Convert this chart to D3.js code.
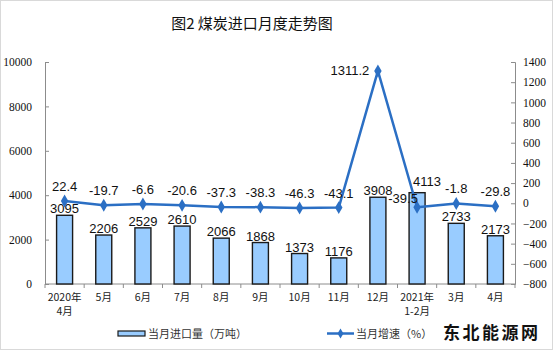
<!DOCTYPE html>
<html><head><meta charset="utf-8">
<script src="https://cdn.jsdelivr.net/npm/d3@7"></script>
<style>
html,body{margin:0;padding:0;background:#fff;}
svg{display:block;}
</style></head>
<body><div id="chart"></div>
<script>
const months=["2020年|4月","5月","6月","7月","8月","9月","10月","11月","12月","2021年|1-2月","3月","4月"];
const imports=[3095,2206,2529,2610,2066,1868,1373,1176,3908,4113,2733,2173];
const growth=[22.4,-19.7,-6.6,-20.6,-37.3,-38.3,-46.3,-43.1,1311.2,-39.5,-1.8,-29.8];
const leftTicks=[0,2000,4000,6000,8000,10000];
const rightTicks=[-800,-600,-400,-200,0,200,400,600,800,1000,1200,1400];

(function(){
  const W=554,H=352;
  const left=45,right=515,top=62,bottom=284;
  const svg=d3.select("#chart").append("svg").attr("width",W).attr("height",H);
  const cjk="'Noto Sans CJK SC','Noto Sans',sans-serif";
  const lineColor="#2b6fc4";

  svg.append("rect").attr("x",0.5).attr("y",0.5).attr("width",W-2).attr("height",H-3)
    .attr("fill","none").attr("stroke","#d9d9d9");

  svg.append("text").attr("x",252).attr("y",29).attr("text-anchor","middle")
    .attr("font-family",cjk).attr("font-size",15).attr("fill","#111")
    .text("图2 煤炭进口月度走势图");

  const x=d3.scaleBand().domain(months).range([left,right]);
  const y=d3.scaleLinear().domain([0,10000]).range([bottom,top]);
  const y2=d3.scaleLinear().domain([-800,1400]).range([bottom,top]);

  const gl=svg.append("g").attr("transform",`translate(${left},0)`)
    .call(d3.axisLeft(y).tickValues(leftTicks).tickSize(-4).tickFormat(d3.format("d")));
  const gr=svg.append("g").attr("transform",`translate(${right},0)`)
    .call(d3.axisRight(y2).tickValues(rightTicks).tickSize(-4).tickFormat(d3.format("d")));
  [gl,gr].forEach(g=>{
    g.select(".domain").attr("stroke","#8c8c8c");
    g.selectAll(".tick line").attr("stroke","#8c8c8c");
    g.selectAll(".tick text").attr("font-family","'Liberation Serif',serif").attr("font-size",11.5).attr("fill","#111");
  });
  gl.selectAll(".tick text").attr("x",-13);
  gr.selectAll(".tick text").attr("x",8).attr("text-anchor","start");

  // category axis with ticks between bands
  svg.append("line").attr("x1",left).attr("x2",right).attr("y1",bottom).attr("y2",bottom).attr("stroke","#8c8c8c");
  svg.selectAll(".xtick").data(d3.range(months.length+1)).join("line")
    .attr("x1",i=>left+i*x.step()).attr("x2",i=>left+i*x.step())
    .attr("y1",bottom).attr("y2",bottom+4).attr("stroke","#8c8c8c");
  const cat=svg.selectAll(".cat").data(months).join("text")
    .attr("text-anchor","middle").attr("font-family",cjk).attr("font-size",10.5).attr("fill","#222");
  cat.each(function(d){
    const t=d3.select(this);
    d.split("|").forEach((p,i)=>t.append("tspan").attr("x",x(d)+x.bandwidth()/2).attr("y",301+i*14).text(p));
  });

  // bars
  const bw=16;
  svg.selectAll(".bar").data(imports).join("rect")
    .attr("x",(d,i)=>x(months[i])+x.bandwidth()/2-bw/2)
    .attr("y",d=>y(d)).attr("width",bw).attr("height",d=>bottom-y(d))
    .attr("fill","#99ccff").attr("stroke","#1a1a1a").attr("stroke-width",1.4);

  const barDx={9:10};
  const barDy={9:-5};
  svg.selectAll(".blab").data(imports).join("text")
    .attr("x",(d,i)=>x(months[i])+x.bandwidth()/2+(barDx[i]||0))
    .attr("y",(d,i)=>y(d)-2+(barDy[i]||0))
    .attr("text-anchor","middle").attr("font-family","'Liberation Sans',Arial,sans-serif")
    .attr("font-size",13).attr("fill","#111").text(d=>d);

  // growth line
  const cx=i=>x(months[i])+x.bandwidth()/2;
  const line=d3.line().x((d,i)=>cx(i)).y(d=>y2(d));
  svg.append("path").datum(growth).attr("d",line)
    .attr("fill","none").attr("stroke",lineColor).attr("stroke-width",2.5).attr("stroke-linejoin","round");
  svg.selectAll(".pt").data(growth).join("path")
    .attr("d",d3.symbol(d3.symbolDiamond,48))
    .attr("transform",(d,i)=>`translate(${cx(i)},${y2(d)})`)
    .attr("fill",lineColor);

  // peak and 1-2月 labels sit to the left of their points
  const lineDx={8:-28,9:-14};
  const lineDy={8:4,9:-4};
  svg.selectAll(".llab").data(growth).join("text")
    .attr("x",(d,i)=>cx(i)+(lineDx[i]||0))
    .attr("y",(d,i)=>y2(d)+(lineDy[i]!==undefined?lineDy[i]:-10))
    .attr("text-anchor","middle").attr("font-family","'Liberation Sans',Arial,sans-serif")
    .attr("font-size",13).attr("fill","#111").text(d=>d);

  // legend
  const lg=svg.append("g").attr("font-family",cjk).attr("font-size",11).attr("fill","#333");
  lg.append("rect").attr("x",118).attr("y",331).attr("width",27).attr("height",5)
    .attr("fill","#99ccff").attr("stroke","#1a1a1a").attr("stroke-width",1.2);
  lg.append("text").attr("x",148).attr("y",338).text("当月进口量（万吨）");
  lg.append("line").attr("x1",327).attr("x2",354).attr("y1",333.5).attr("y2",333.5)
    .attr("stroke",lineColor).attr("stroke-width",2.5);
  lg.append("path").attr("d",d3.symbol(d3.symbolDiamond,30)).attr("transform","translate(340.5,333.5)").attr("fill",lineColor);
  lg.append("text").attr("x",356).attr("y",338).text("当月增速（%）");

  svg.append("text").attr("x",443).attr("y",339).attr("font-family",cjk)
    .attr("font-size",17).attr("font-weight",700).attr("letter-spacing",2.5).attr("fill","#111")
    .text("东北能源网");
})();
</script>
</body></html>
